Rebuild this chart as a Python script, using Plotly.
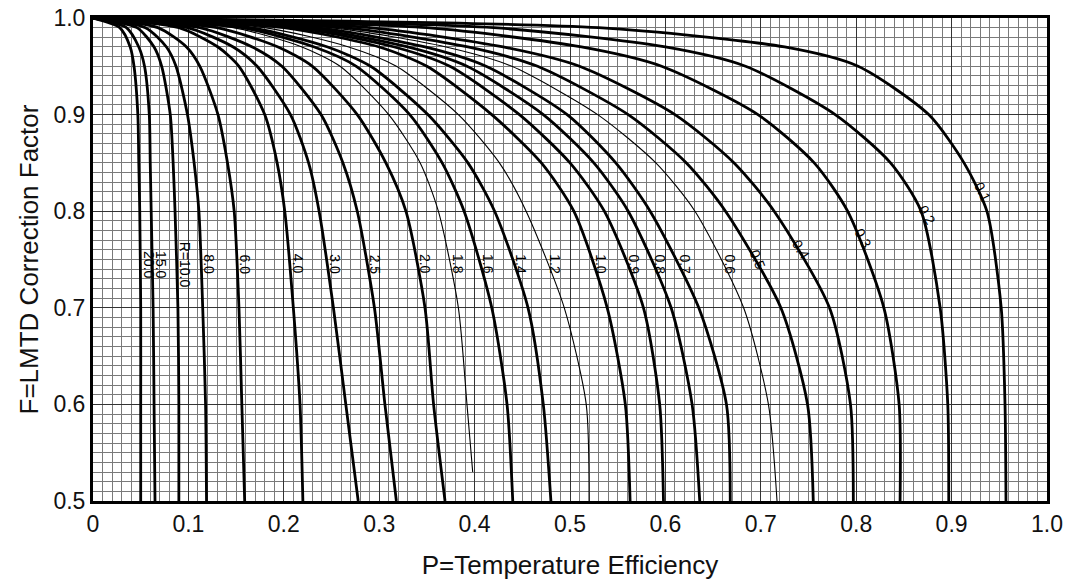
import numpy as np
import plotly.graph_objects as go

# ---- data ----
# F (LMTD correction factor) levels at which P was read for each R curve
f_levels = [1.0, 0.99, 0.97, 0.95, 0.90, 0.85, 0.80, 0.70, 0.60, 0.50]
f_levels_r18 = [1.0, 0.99, 0.97, 0.95, 0.90, 0.85, 0.80, 0.70, 0.60, 0.53]

r_labels = ["20.0", "15.0", "R=10.0", "8.0", "6.0", "4.0", "3.0", "2.5", "2.0", "1.8",
            "1.6", "1.4", "1.2", "1.0", "0.9", "0.8", "0.7", "0.6", "0.5", "0.4",
            "0.3", "0.2", "0.1"]

p_r20 = [0.0, 0.028, 0.039, 0.043, 0.047, 0.048, 0.049, 0.050, 0.050, 0.050]
p_r15 = [0.0, 0.035, 0.048, 0.054, 0.059, 0.060, 0.061, 0.063, 0.064, 0.065]
p_r10 = [0.0, 0.046, 0.064, 0.072, 0.081, 0.084, 0.086, 0.089, 0.090, 0.090]
p_r8 = [0.0, 0.055, 0.077, 0.087, 0.099, 0.106, 0.111, 0.115, 0.118, 0.119]
p_r6 = [0.0, 0.068, 0.098, 0.112, 0.131, 0.141, 0.148, 0.153, 0.156, 0.159]
p_r4 = [0.0, 0.090, 0.131, 0.153, 0.180, 0.193, 0.201, 0.210, 0.217, 0.220]
p_r3 = [0.0, 0.099, 0.147, 0.172, 0.207, 0.226, 0.237, 0.252, 0.265, 0.278]
p_r25 = [0.0, 0.112, 0.167, 0.198, 0.239, 0.262, 0.277, 0.295, 0.306, 0.318]
p_r2 = [0.0, 0.130, 0.194, 0.230, 0.277, 0.307, 0.328, 0.348, 0.357, 0.369]
p_r18 = [0.0, 0.147, 0.219, 0.259, 0.310, 0.343, 0.362, 0.383, 0.392, 0.398]
p_r16 = [0.0, 0.156, 0.232, 0.276, 0.332, 0.366, 0.389, 0.418, 0.434, 0.440]
p_r14 = [0.0, 0.165, 0.246, 0.291, 0.351, 0.393, 0.421, 0.456, 0.472, 0.480]
p_r12 = [0.0, 0.180, 0.268, 0.318, 0.383, 0.426, 0.454, 0.494, 0.517, 0.520]
p_r10b = [0.0, 0.200, 0.300, 0.350, 0.418, 0.470, 0.504, 0.539, 0.558, 0.563]
p_r09 = [0.0, 0.212, 0.316, 0.374, 0.447, 0.500, 0.536, 0.577, 0.594, 0.598]
p_r08 = [0.0, 0.222, 0.330, 0.392, 0.472, 0.525, 0.561, 0.606, 0.628, 0.636]
p_r07 = [0.0, 0.234, 0.348, 0.412, 0.497, 0.548, 0.584, 0.635, 0.664, 0.668]
p_r06 = [0.0, 0.249, 0.370, 0.439, 0.529, 0.590, 0.631, 0.682, 0.708, 0.717]
p_r05 = [0.0, 0.264, 0.393, 0.466, 0.561, 0.622, 0.663, 0.721, 0.749, 0.755]
p_r04 = [0.0, 0.290, 0.430, 0.510, 0.610, 0.672, 0.714, 0.772, 0.794, 0.797]
p_r03 = [0.0, 0.350, 0.512, 0.596, 0.697, 0.756, 0.791, 0.829, 0.845, 0.846]
p_r02 = [0.0, 0.420, 0.600, 0.684, 0.778, 0.836, 0.868, 0.888, 0.896, 0.897]
p_r01 = [0.0, 0.530, 0.725, 0.802, 0.876, 0.913, 0.937, 0.952, 0.956, 0.957]

curves = [p_r20, p_r15, p_r10, p_r8, p_r6, p_r4, p_r3, p_r25, p_r2, p_r18,
          p_r16, p_r14, p_r12, p_r10b, p_r09, p_r08, p_r07, p_r06, p_r05, p_r04,
          p_r03, p_r02, p_r01]

thin_curves = {"1.8", "1.2", "0.6"}
# F at which each curve label sits (slanted labels sit higher)
label_f = {"0.5": 0.750, "0.4": 0.760, "0.3": 0.772, "0.2": 0.796, "0.1": 0.820}
label_angle = {"0.5": 68, "0.4": 58, "0.3": 62, "0.2": 60, "0.1": 64}

FONT = "Liberation Sans, Arial, sans-serif"

fig = go.Figure()
annotations = []
for lab, pvals in zip(r_labels, curves):
    fvals = f_levels_r18 if lab == "1.8" else f_levels
    width = 1.1 if lab in thin_curves else 2.8
    fig.add_trace(go.Scatter(
        x=pvals, y=fvals, mode="lines",
        line=dict(color="black", width=width, shape="spline", smoothing=0.7),
        hoverinfo="skip", showlegend=False))
    fl = label_f.get(lab, 0.745)
    # position label from the curve itself (interpolate P at label F)
    px = float(np.interp(fl, fvals[::-1], pvals[::-1]))
    annotations.append(dict(
        x=px, y=fl, xref="x", yref="y", text=lab, showarrow=False,
        textangle=label_angle.get(lab, 90),
        font=dict(family=FONT, size=14, color="black"),
        xshift=8 if lab not in label_f else 5, yshift=0))

fig.update_layout(
    width=1078, height=580,
    margin=dict(l=93, r=31, t=18, b=79),
    paper_bgcolor="white", plot_bgcolor="white",
    annotations=annotations,
    xaxis=dict(
        range=[0, 1.0], tickvals=[0, 0.1, 0.2, 0.3, 0.4, 0.5, 0.6, 0.7, 0.8, 0.9, 1.0],
        ticktext=["0", "0.1", "0.2", "0.3", "0.4", "0.5", "0.6", "0.7", "0.8", "0.9", "1.0"],
        showgrid=True, gridcolor="#333333", gridwidth=1.3,
        minor=dict(dtick=0.01, showgrid=True, gridcolor="#7a7a7a", gridwidth=1),
        showline=True, linecolor="black", linewidth=3, mirror=True,
        ticks="", ticklen=0, tickfont=dict(family=FONT, size=23, color="#111"),
        ticklabeloverflow="allow",
        title=dict(text="P=Temperature Efficiency", font=dict(family=FONT, size=26, color="#111"),
                   standoff=22),
        zeroline=False, automargin=False),
    yaxis=dict(
        range=[0.5, 1.0], tickvals=[0.5, 0.6, 0.7, 0.8, 0.9, 1.0],
        ticktext=["0.5", "0.6", "0.7", "0.8", "0.9", "1.0"],
        showgrid=True, gridcolor="#333333", gridwidth=1.3,
        minor=dict(dtick=0.01, showgrid=True, gridcolor="#7a7a7a", gridwidth=1),
        showline=True, linecolor="black", linewidth=3, mirror=True,
        ticks="", ticklen=0, tickfont=dict(family=FONT, size=23, color="#111"),
        ticklabeloverflow="allow",
        title=dict(text="F=LMTD Correction Factor", font=dict(family=FONT, size=26, color="#111"),
                   standoff=8),
        zeroline=False, automargin=False),
)

# remove the default page margin so the figure fills the window exactly
fig.write_html("out.html", config={"displayModeBar": False},
               post_script="document.body.style.margin='0';")
